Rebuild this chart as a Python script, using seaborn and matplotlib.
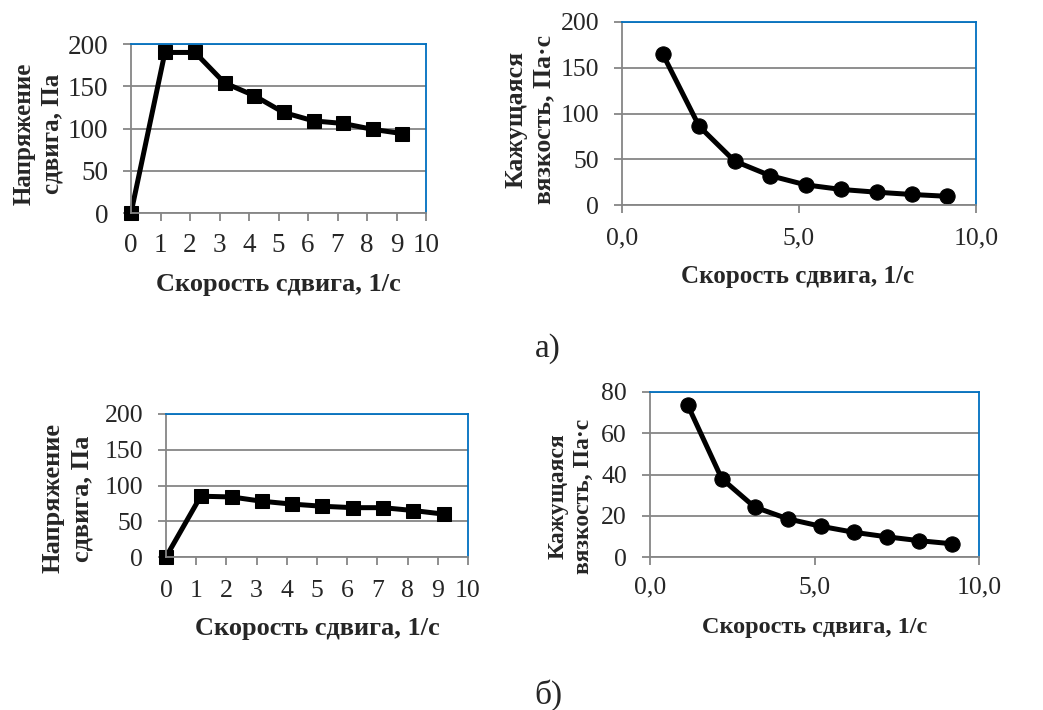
import matplotlib
matplotlib.use("Agg")
import matplotlib.pyplot as plt
import seaborn as sns

# shear rate, 1/s
rate_stress = [0, 1.15, 2.17, 3.17, 4.17, 5.17, 6.19, 7.18, 8.19, 9.19]
rate_visc = [1.15, 2.18, 3.18, 4.19, 5.19, 6.19, 7.19, 8.19, 9.19]

# а) sample
stress_a = [0, 190, 190, 154, 139, 119, 109, 106, 99, 94]
visc_a = [165, 86, 48, 32, 22, 17, 14, 11.5, 9.5]

# б) sample
stress_b = [0, 85, 84, 78, 74, 71, 69, 69, 65, 60]
visc_b = [73.5, 38, 24.2, 18.5, 14.9, 12, 9.8, 7.9, 6.4]

x_label = "Скорость сдвига, 1/с"
stress_label = "Напряжение\nсдвига, Па"
visc_label = "Кажущаяся\nвязкость, Па·с"

sns.set_style("white")
plt.rcParams["font.family"] = ["Liberation Serif", "DejaVu Serif"]

W, H = 1043, 710
fig = plt.figure(figsize=(W / 100, H / 100), dpi=100)


def make_ax(l, r, t, b):
    return fig.add_axes([l / W, 1 - b / H, (r - l) / W, (b - t) / H])


def style(ax, ylim, yticks, xticks, xticklabels, ylabel, ylab_xy, xlab_xy,
          tick_fs, xlab_fs, ylab_fs, ypad, xpad):
    ax.set_xlim(0, 10)
    ax.set_ylim(*ylim)
    ax.set_yticks(yticks)
    ax.set_xticks(xticks)
    ax.set_xticklabels(xticklabels)
    ax.yaxis.grid(True, color="#868686", lw=1.3)
    ax.set_axisbelow(True)
    for s in ["top", "right"]:
        ax.spines[s].set_color("#0070C0")
        ax.spines[s].set_linewidth(1.3)
    for s in ["left", "bottom"]:
        ax.spines[s].set_color("#868686")
        ax.spines[s].set_linewidth(1.3)
    ax.tick_params(axis="both", direction="out", length=6, width=1.3,
                   color="#868686", labelsize=tick_fs, left=True, bottom=True)
    ax.tick_params(axis="y", pad=ypad)
    ax.tick_params(axis="x", pad=xpad)
    ax.set_xlabel(x_label, fontsize=xlab_fs, fontweight="bold", va="center")
    ax.xaxis.set_label_coords(*xlab_xy)
    ax.set_ylabel(ylabel, fontsize=ylab_fs, fontweight="bold", va="center",
                  linespacing=1.3)
    ax.yaxis.set_label_coords(*ylab_xy)


def draw(ax, x, y, marker, ms):
    sns.lineplot(x=x, y=y, ax=ax, color="black", lw=3.6, marker=marker,
                 markersize=ms, markeredgecolor="black", clip_on=False,
                 legend=False)


ax1 = make_ax(131, 426, 44, 213)
draw(ax1, rate_stress, stress_a, "s", 10)
style(ax1, (0, 200), range(0, 201, 50), range(0, 11), [str(i) for i in range(11)],
      stress_label, (-0.315, 0.47), (0.5, -0.426), 19.5, 19, 18, 10.5, 8.6)

ax2 = make_ax(622, 976, 22, 205)
draw(ax2, rate_visc, visc_a, "o", 11)
style(ax2, (0, 200), range(0, 201, 50), [0, 5, 10], ["0,0", "5,0", "10,0"],
      visc_label, (-0.26, 0.467), (0.497, -0.393), 18.5, 18, 18.5, 10.5, 10)

ax3 = make_ax(166, 468, 414, 557)
draw(ax3, rate_stress, stress_b, "s", 10)
style(ax3, (0, 200), range(0, 201, 50), range(0, 11), [str(i) for i in range(11)],
      stress_label, (-0.326, 0.41), (0.5, -0.5), 18.5, 19, 19, 10.5, 10.4)

ax4 = make_ax(650, 979, 392, 557)
draw(ax4, rate_visc, visc_b, "o", 11)
style(ax4, (0, 80), range(0, 81, 20), [0, 5, 10], ["0,0", "5,0", "10,0"],
      visc_label, (-0.24, 0.37), (0.5, -0.43), 18.5, 17.5, 17, 10.5, 8.2)

fig.text(548 / W, 1 - 349 / H, "а)", fontsize=24, ha="center", va="center")
fig.text(548 / W, 1 - 695 / H, "б)", fontsize=24, ha="center", va="center")

fig.savefig("out.png", dpi=100)
